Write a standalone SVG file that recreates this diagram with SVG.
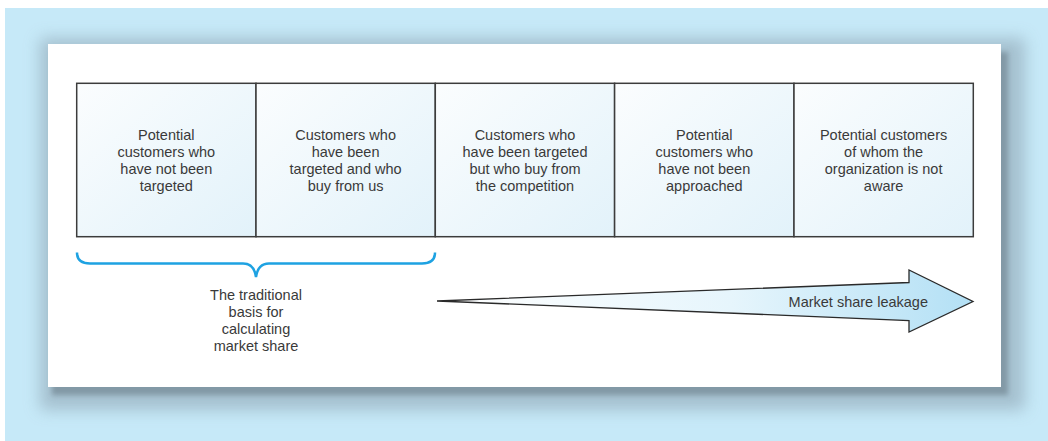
<svg xmlns="http://www.w3.org/2000/svg" width="1048" height="441" viewBox="0 0 1048 441">
<defs>
<linearGradient id="boxFill" x1="0" y1="0" x2="1" y2="1">
<stop offset="0" stop-color="#fbfdfe"/>
<stop offset="1" stop-color="#e2f2fa"/>
</linearGradient>
<linearGradient id="arrowFill" gradientUnits="userSpaceOnUse" x1="437" y1="0" x2="973" y2="0">
<stop offset="0" stop-color="#ffffff"/>
<stop offset="0.55" stop-color="#e6f5fc"/>
<stop offset="1" stop-color="#b3e0f5"/>
</linearGradient>
<filter id="shadowBlur" x="-10%" y="-20%" width="120%" height="140%">
<feGaussianBlur stdDeviation="8"/>
</filter>
<filter id="shadowTight" x="-5%" y="-10%" width="110%" height="120%">
<feGaussianBlur stdDeviation="2.5"/>
</filter>
</defs>
<style>
.box{fill:url(#boxFill);stroke:#3c3c3c;stroke-width:1.5}
.lbl{font-family:"Liberation Sans",Arial,sans-serif;font-size:14.5px;fill:#3a3a3a;text-anchor:middle}
</style>
<rect x="5" y="8" width="1043" height="433" fill="#c6e9f8"/>
<g id="shadow">
<rect x="40" y="38" width="985" height="372" fill="#9cb6c4" filter="url(#shadowBlur)" opacity="0.8"/>
<rect x="52" y="52" width="956" height="343" fill="#8299a6" filter="url(#shadowTight)"/>
</g>
<rect x="48" y="44" width="953" height="343" fill="#ffffff"/>
<g id="box1"><rect class="box" x="76.7" y="83.3" width="179.3" height="153.4"/>
<text class="lbl"><tspan x="166.3" y="140">Potential</tspan><tspan x="166.3" y="157">customers who</tspan><tspan x="166.3" y="174">have not been</tspan><tspan x="166.3" y="191">targeted</tspan></text></g>
<g id="box2"><rect class="box" x="256" y="83.3" width="179.3" height="153.4"/>
<text class="lbl"><tspan x="345.6" y="140">Customers who</tspan><tspan x="345.6" y="157">have been</tspan><tspan x="345.6" y="174">targeted and who</tspan><tspan x="345.6" y="191">buy from us</tspan></text></g>
<g id="box3"><rect class="box" x="435.3" y="83.3" width="179.3" height="153.4"/>
<text class="lbl"><tspan x="525" y="140">Customers who</tspan><tspan x="525" y="157">have been targeted</tspan><tspan x="525" y="174">but who buy from</tspan><tspan x="525" y="191">the competition</tspan></text></g>
<g id="box4"><rect class="box" x="614.6" y="83.3" width="179.4" height="153.4"/>
<text class="lbl"><tspan x="704.3" y="140">Potential</tspan><tspan x="704.3" y="157">customers who</tspan><tspan x="704.3" y="174">have not been</tspan><tspan x="704.3" y="191">approached</tspan></text></g>
<g id="box5"><rect class="box" x="794" y="83.3" width="179.3" height="153.4"/>
<text class="lbl"><tspan x="883.6" y="140">Potential customers</tspan><tspan x="883.6" y="157">of whom the</tspan><tspan x="883.6" y="174">organization is not</tspan><tspan x="883.6" y="191">aware</tspan></text></g>
<g id="connectors">
<path id="brace" d="M77 252.5 Q77 263.5 90 263.5 L243 263.5 Q254 263.5 256 277 Q258 263.5 269 263.5 L422 263.5 Q435 263.5 435 252.5" fill="none" stroke="#1ea2e2" stroke-width="2.5"/>
<polygon id="arrow" points="437,301 909,282.5 909,270 973,301.5 909,332 909,320.5" fill="url(#arrowFill)" stroke="#2a2a2a" stroke-width="1.3" stroke-linejoin="miter"/>
</g>
<g id="braceLabel"><text class="lbl"><tspan x="256" y="299.5">The traditional</tspan><tspan x="256" y="316.5">basis for</tspan><tspan x="256" y="333.5">calculating</tspan><tspan x="256" y="350.5">market share</tspan></text></g>
<g id="arrowLabel"><text class="lbl" x="928" y="306.5" style="text-anchor:end">Market share leakage</text></g>
</svg>
